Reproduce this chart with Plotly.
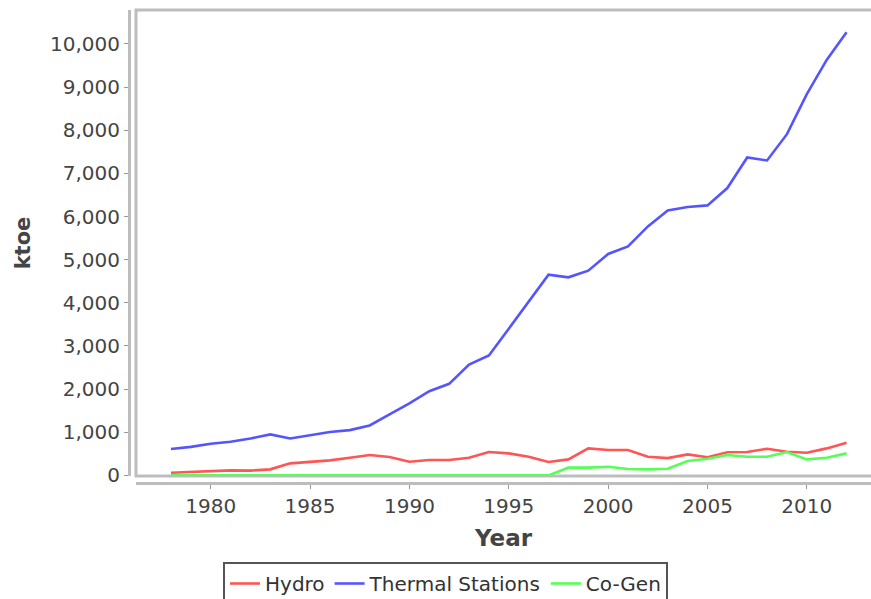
import plotly.graph_objects as go

years = list(range(1978, 2013))
hydro = [62, 77, 100, 116, 110, 139, 278, 309, 347, 409, 471, 424, 316, 355, 355, 409,
         540, 509, 432, 309, 370, 625, 586, 586, 432, 400, 486, 420, 535, 540, 617, 548,
         525, 625, 756]
thermal = [610, 660, 733, 780, 856, 949, 855, 926, 1003, 1049, 1157, 1412, 1667, 1951,
           2122, 2569, 2778, 3400, 4035, 4653, 4591, 4745, 5131, 5308, 5771, 6141, 6219,
           6257, 6659, 7368, 7299, 7909, 8836, 9630, 10271]
cogen = [0, 0, 0, 0, 0, 0, 0, 0, 0, 0, 0, 0, 0, 0, 0, 0, 0, 0, 0, 0, 178, 178, 201, 146,
         139, 154, 332, 386, 471, 432, 432, 540, 370, 409, 509]
series_names = ["Hydro", "Thermal Stations", "Co-Gen"]
series_colors = ["#FF5555", "#5555FF", "#55FF55"]
y_ticks = list(range(0, 10001, 1000))
x_ticks = list(range(1980, 2011, 5))

W, H = 871, 599
ml, mr, mt, mb = 129, 0, 10, 116
off = 7
pw = W - ml - mr
ph = H - mt - mb

fig = go.Figure()
for name, vals, col in zip(series_names, [hydro, thermal, cogen], series_colors):
    fig.add_trace(go.Scatter(x=years, y=vals, mode="lines", name=name,
                             line=dict(color=col, width=2.6)))

axis_gray = "#bdbdbd"
font_fam = "DejaVu Sans"

fig.update_layout(
    width=W, height=H,
    margin=dict(l=ml, r=mr, t=mt, b=mb, autoexpand=False),
    paper_bgcolor="white", plot_bgcolor="white",
    font=dict(family=font_fam, size=20, color="#444444"),
    xaxis=dict(
        domain=[off / pw, 1], range=[1976.24, 2013.23],
        anchor="free", position=0,
        showgrid=False, zeroline=False,
        showline=True, linecolor=axis_gray, linewidth=3,
        ticks="outside", ticklen=4, tickcolor="#999999", tickwidth=1,
        tickvals=x_ticks, ticktext=[str(v) for v in x_ticks],
        tickfont=dict(size=20, color="#444444"),
        title=dict(text="<b>Year</b>", font=dict(size=23, color="#444444"), standoff=12),
    ),
    yaxis=dict(
        domain=[off / ph, 1], range=[-15, 10787],
        anchor="free", position=0,
        showgrid=False, zeroline=False,
        showline=True, linecolor=axis_gray, linewidth=3,
        ticks="outside", ticklen=4, tickcolor="#999999", tickwidth=1,
        tickvals=y_ticks, ticktext=[f"{v:,}" for v in y_ticks],
        tickfont=dict(size=20, color="#444444"),
        title=dict(text="<b>ktoe</b>", font=dict(size=21, color="#444444"), standoff=12),
    ),
    legend=dict(
        orientation="h", x=(223 - ml) / pw, y=(483 - 562) / ph,
        xanchor="left", yanchor="top",
        bordercolor="#555555", borderwidth=2,
        font=dict(size=20, color="#333333"),
        itemwidth=30, tracegroupgap=0,
    ),
    showlegend=True,
)

fig.add_shape(type="rect", xref="x domain", yref="y domain",
              x0=0, x1=1.05, y0=0, y1=1,
              line=dict(color=axis_gray, width=3), layer="below")

fig.write_html(
    "out.html",
    config={"displayModeBar": False},
    post_script="document.body.style.margin='0';document.body.style.overflow='hidden';",
)
